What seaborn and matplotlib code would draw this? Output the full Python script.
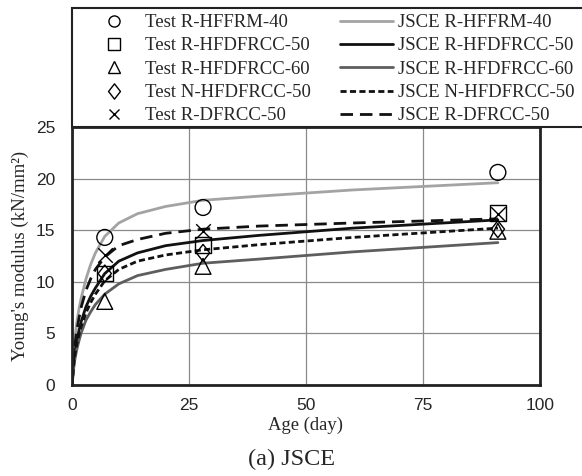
import numpy as np
import pandas as pd
import matplotlib
matplotlib.use("Agg")
import matplotlib.pyplot as plt
import seaborn as sns
from matplotlib.lines import Line2D
from matplotlib.patches import Rectangle
from matplotlib.path import Path

# ---- data ----
test_days = [7, 28, 91]
test_R_HFFRM_40 = [14.3, 17.2, 20.6]
test_R_HFDFRCC_50 = [10.8, 13.6, 16.7]
test_R_HFDFRCC_60 = [8.1, 11.5, 14.9]
test_N_HFDFRCC_50 = [10.8, 12.8, 15.1]
test_R_DFRCC_50 = [12.6, 14.9, 16.6]

curve_days = [0, 0.5, 1, 1.5, 2, 3, 4, 5, 7, 10, 14, 20, 28, 40, 60, 91]
jsce_R_HFFRM_40 = [0, 4.0, 6.0, 7.4, 8.5, 10.3, 11.7, 12.8, 14.4, 15.7, 16.6, 17.3, 17.9, 18.3, 18.9, 19.6]
jsce_R_HFDFRCC_50 = [0, 2.8, 4.2, 5.3, 6.2, 7.6, 8.6, 9.4, 10.8, 12.0, 12.8, 13.5, 14.0, 14.5, 15.2, 16.0]
jsce_R_HFDFRCC_60 = [0, 2.2, 3.4, 4.3, 5.1, 6.3, 7.1, 7.8, 8.8, 9.8, 10.6, 11.2, 11.8, 12.2, 12.9, 13.8]
jsce_N_HFDFRCC_50 = [0, 2.6, 3.9, 4.9, 5.7, 7.0, 8.0, 8.8, 10.1, 11.2, 12.0, 12.6, 13.1, 13.6, 14.3, 15.2]
jsce_R_DFRCC_50 = [0, 3.5, 5.2, 6.5, 7.6, 9.2, 10.3, 11.2, 12.4, 13.5, 14.1, 14.7, 15.1, 15.4, 15.7, 16.1]

names = ["R-HFFRM-40", "R-HFDFRCC-50", "R-HFDFRCC-60", "N-HFDFRCC-50", "R-DFRCC-50"]
tests = [test_R_HFFRM_40, test_R_HFDFRCC_50, test_R_HFDFRCC_60, test_N_HFDFRCC_50, test_R_DFRCC_50]
curves = [jsce_R_HFFRM_40, jsce_R_HFDFRCC_50, jsce_R_HFDFRCC_60, jsce_N_HFDFRCC_50, jsce_R_DFRCC_50]

# ---- style ----
sns.set_style("white")
serif = ["Liberation Serif", "DejaVu Serif"]
sansn = ["Liberation Sans Narrow", "Liberation Sans", "DejaVu Sans"]
plt.rcParams["font.family"] = serif

diamond = Path([(0, 1), (0.78, 0), (0, -1), (-0.78, 0), (0, 1)],
               [Path.MOVETO, Path.LINETO, Path.LINETO, Path.LINETO, Path.CLOSEPOLY])
markers = ["o", "s", "^", diamond, "x"]
marker_sizes = [130, 130, 130, 150, 110]
legend_msizes = [8, 8, 8, 11, 7]
line_colors = ["#a3a3a3", "#111111", "#5e5e5e", "#111111", "#111111"]
line_styles = ["-", "-", "-", (0, (2.2, 1.2)), (0, (4.5, 2.5))]

W, H = 582, 476
fig = plt.figure(figsize=(W / 100, H / 100), dpi=100)
ax = fig.add_axes([72 / W, 1 - 385 / H, 468 / W, 258 / H])

for name, vals, col, ls in zip(names, curves, line_colors, line_styles):
    df = pd.DataFrame({"day": curve_days, "E": vals})
    sns.lineplot(data=df, x="day", y="E", ax=ax, color=col, linewidth=2.0,
                 linestyle=ls, zorder=2)

for name, vals, mk, ms in zip(names, tests, markers, marker_sizes):
    df = pd.DataFrame({"day": test_days, "E": vals})
    if isinstance(mk, str) and mk == "x":
        sns.scatterplot(data=df, x="day", y="E", ax=ax, marker=mk, s=ms,
                        color="black", linewidth=1.0, zorder=3)
    else:
        sns.scatterplot(data=df, x="day", y="E", ax=ax, marker=mk, s=ms,
                        facecolor="none", edgecolor="black", linewidth=1.0, zorder=3)

ax.set_xlim(0, 100)
ax.set_ylim(0, 25)
ax.set_xticks([0, 25, 50, 75, 100])
ax.set_yticks([0, 5, 10, 15, 20, 25])
ax.grid(True, color="#8a8a8a", linewidth=0.9)
ax.tick_params(axis="x", length=0, labelsize=12.5, pad=9)
ax.tick_params(axis="y", length=0, labelsize=12.5, pad=12)
for lab in ax.get_xticklabels() + ax.get_yticklabels():
    lab.set_family(sansn)
for sp in ax.spines.values():
    sp.set_color("#222222")
    sp.set_linewidth(2.0)
ax.set_xlabel("Age (day)", fontsize=13.4, labelpad=3)
ax.set_ylabel("Young's modulus (kN/mm²)", fontsize=13.6, labelpad=5)

fig.text(292 / W, 1 - 459 / H, "(a) JSCE", ha="center", va="center", fontsize=17.5)

# legend frame (extends past the right edge as in the reference)
fig.patches.append(Rectangle((72 / W, 1 - 127 / H), 540 / W, 119 / H,
                             transform=fig.transFigure, fill=False,
                             edgecolor="#222222", linewidth=1.5, clip_on=False))

handles = []
labels = []
for name, mk, lms in zip(names, markers, legend_msizes):
    if isinstance(mk, str) and mk == "x":
        h = Line2D([], [], marker=mk, linestyle="", color="black", markersize=lms, markeredgewidth=1.0)
    else:
        h = Line2D([], [], marker=mk, linestyle="", markerfacecolor="none",
                   markeredgecolor="black", markersize=lms, markeredgewidth=1.0)
    handles.append(h)
    labels.append("Test " + name)
for name, col, ls in zip(names, line_colors, line_styles):
    handles.append(Line2D([], [], color=col, linestyle=ls, linewidth=2.0))
    labels.append("JSCE " + name)

leg = fig.legend(handles, labels, ncol=2, loc="upper left",
                 bbox_to_anchor=(87 / W, 1 - 14 / H),
                 fontsize=13.5, frameon=False,
                 handlelength=2.83, handletextpad=0.27, labelspacing=0.33,
                 borderpad=0, columnspacing=1.54, borderaxespad=0)

fig.savefig("out.png", dpi=100)
